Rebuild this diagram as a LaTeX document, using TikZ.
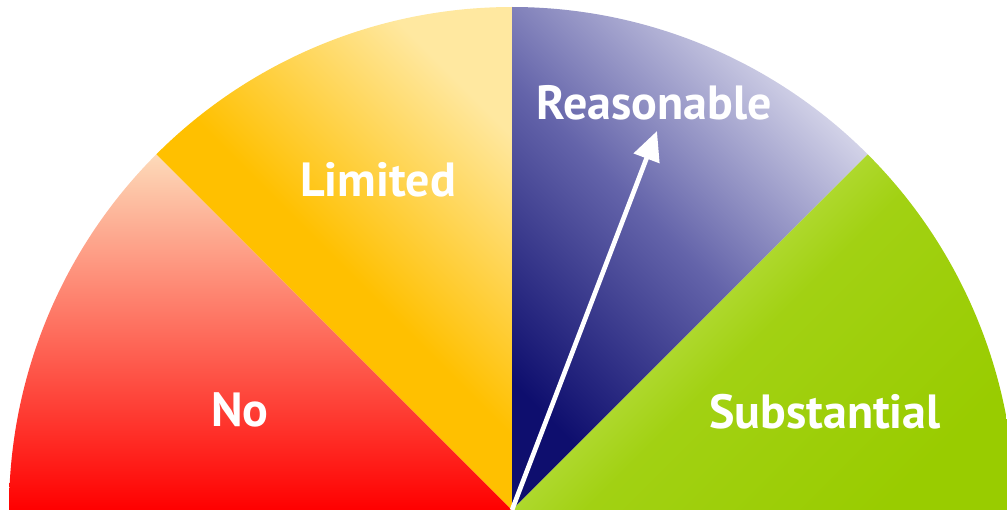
\documentclass[tikz,border=0pt]{standalone}
\usepackage{fontspec}
\setmainfont{PT Sans}
\usetikzlibrary{arrows.meta}
\definecolor{noRed}{RGB}{255,0,0}
\definecolor{noLight}{RGB}{253,218,185}
\definecolor{limYellow}{RGB}{255,192,0}
\definecolor{limLight}{RGB}{255,232,160}
\definecolor{reaDark}{RGB}{14,14,110}
\definecolor{reaMid}{RGB}{100,100,170}
\definecolor{reaLight}{RGB}{218,218,236}
\definecolor{subGreen}{RGB}{153,204,0}
\definecolor{subLight}{RGB}{212,238,125}

\begin{document}
\begin{tikzpicture}[x=0.75pt,y=0.75pt,yscale=-1,xscale=1,
  lbl/.style={text=white, font=\bfseries\fontsize{36}{36}\selectfont, inner sep=0.75pt},
  pointer/.style={draw=white, line width=3.5pt, -{Triangle[length=22pt,width=20pt,fill=white]}}]
%set diagram size to 1007 x 510
\path [use as bounding box] (0,0) rectangle (1007,510);
\clip (0,0) rectangle (1007,510);
\coordinate (hub) at (512,510);
\coordinate (tip) at (657,131);

%Shape: Sector [No]
\shade [top color=noLight, bottom color=noRed] (hub) -- ++(-180:503) arc [start angle=-180, end angle=-135, radius=503] -- cycle;
%Shape: Sector [Limited]
\shade [top color=limLight, bottom color=limYellow, middle color=limYellow, shading angle=-45] (hub) -- ++(-135:503) arc [start angle=-135, end angle=-90, radius=503] -- cycle;
%Shape: Sector [Reasonable]
\shade [top color=reaLight, bottom color=reaDark, middle color=reaMid, shading angle=-45] (hub) -- ++(-90:503) arc [start angle=-90, end angle=-45, radius=503] -- cycle;
%Shape: Sector [Substantial]
\shade [top color=subLight, bottom color=subGreen, middle color=subGreen!85!subLight, shading angle=45] (hub) -- ++(-45:503) arc [start angle=-45, end angle=0, radius=503] -- cycle;

%Straight Lines [pointer]
\draw [pointer] (hub) -- (tip);

% Text Node
\draw (240,410) node (lblNo) [lbl] {No};
% Text Node
\draw (378,180) node (lblLimited) [lbl] {Limited};
% Text Node
\draw (654,103) node (lblReasonable) [lbl] {Reasonable};
% Text Node
\draw (825,412) node (lblSubstantial) [lbl] {Substantial};

\end{tikzpicture}
\end{document}
